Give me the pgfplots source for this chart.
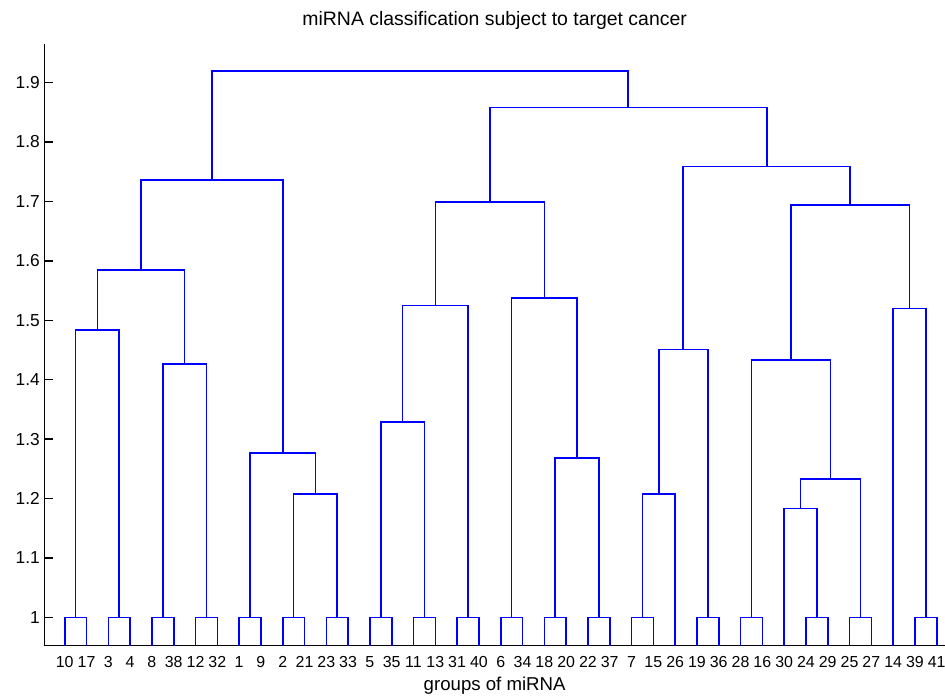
\documentclass[border=0pt]{standalone}
\usepackage{pgfplots}
\pgfplotsset{compat=1.18}
\usepackage{fontspec}
\setmainfont{Liberation Sans}
\definecolor{dblue}{RGB}{0,0,255}
\begin{document}
\begin{tikzpicture}
\useasboundingbox (-44.3bp,-51.7bp) rectangle (900.7bp,645.3bp);
\begin{axis}[
  at={(0,0)}, anchor=south west,
  scale only axis, width=900.7bp, height=601.3bp,
  xmin=0.064, xmax=41.38, ymin=0.953, ymax=1.965,
  axis lines*=left,
  axis line style={black, line width=1.4bp},
  /pgf/number format/assume math mode=true,
  xtick={1,...,41},
  xticklabels={10,17,3,4,8,38,12,32,1,9,2,21,23,33,5,35,11,13,31,40,6,34,18,20,22,37,7,15,26,19,36,28,16,30,24,29,25,27,14,39,41},
  xtick style={draw=none},
  xticklabel style={font=\fontsize{16}{16}\selectfont, anchor=base, yshift=-22.7bp},
  ytick={1,1.1,1.2,1.3,1.4,1.5,1.6,1.7,1.8,1.9},
  yticklabels={1,1.1,1.2,1.3,1.4,1.5,1.6,1.7,1.8,1.9},
  ytick pos=left, tick align=inside,
  major tick length=9bp,
  ytick style={black, line width=1.4bp},
  yticklabel style={font=\fontsize{17.4}{17.4}\selectfont, xshift=-1bp},
  title={miRNA classification subject to target cancer},
  title style={font=\fontsize{19.5}{19.5}\selectfont, at={(0.5,1)}, anchor=base, yshift=13bp},
  xlabel={groups of miRNA},
  xlabel style={font=\fontsize{18.7}{18.7}\selectfont, at={(0.5,0)}, anchor=base, yshift=-45bp},
  every axis plot/.append style={dblue, line width=1.6bp, no marks, forget plot},
  clip=true,
]
% leaf pairs joined at height 1
\addplot coordinates {(1,0) (1,1) (2,1) (2,0)};
\addplot coordinates {(3,0) (3,1) (4,1) (4,0)};
\addplot coordinates {(5,0) (5,1) (6,1) (6,0)};
\addplot coordinates {(7,0) (7,1) (8,1) (8,0)};
\addplot coordinates {(9,0) (9,1) (10,1) (10,0)};
\addplot coordinates {(11,0) (11,1) (12,1) (12,0)};
\addplot coordinates {(13,0) (13,1) (14,1) (14,0)};
\addplot coordinates {(15,0) (15,1) (16,1) (16,0)};
\addplot coordinates {(17,0) (17,1) (18,1) (18,0)};
\addplot coordinates {(19,0) (19,1) (20,1) (20,0)};
\addplot coordinates {(21,0) (21,1) (22,1) (22,0)};
\addplot coordinates {(23,0) (23,1) (24,1) (24,0)};
\addplot coordinates {(25,0) (25,1) (26,1) (26,0)};
\addplot coordinates {(27,0) (27,1) (28,1) (28,0)};
\addplot coordinates {(30,0) (30,1) (31,1) (31,0)};
\addplot coordinates {(32,0) (32,1) (33,1) (33,0)};
\addplot coordinates {(35,0) (35,1) (36,1) (36,0)};
\addplot coordinates {(37,0) (37,1) (38,1) (38,0)};
\addplot coordinates {(40,0) (40,1) (41,1) (41,0)};
% higher merges
\addplot coordinates {(1.5,1) (1.5,1.484) (3.5,1.484) (3.5,1)};
\addplot coordinates {(5.5,1) (5.5,1.426) (7.5,1.426) (7.5,1)};
\addplot coordinates {(2.5,1.484) (2.5,1.585) (6.5,1.585) (6.5,1.426)};
\addplot coordinates {(11.5,1) (11.5,1.208) (13.5,1.208) (13.5,1)};
\addplot coordinates {(9.5,1) (9.5,1.277) (12.5,1.277) (12.5,1.208)};
\addplot coordinates {(4.5,1.585) (4.5,1.736) (11,1.736) (11,1.277)};
\addplot coordinates {(15.5,1) (15.5,1.329) (17.5,1.329) (17.5,1)};
\addplot coordinates {(16.5,1.329) (16.5,1.525) (19.5,1.525) (19.5,1)};
\addplot coordinates {(23.5,1) (23.5,1.268) (25.5,1.268) (25.5,1)};
\addplot coordinates {(21.5,1) (21.5,1.5375) (24.5,1.5375) (24.5,1.268)};
\addplot coordinates {(18,1.525) (18,1.699) (23,1.699) (23,1.5375)};
\addplot coordinates {(27.5,1) (27.5,1.208) (29,1.208) (29,0)};
\addplot coordinates {(28.25,1.208) (28.25,1.4505) (30.5,1.4505) (30.5,1)};
\addplot coordinates {(34,0) (34,1.183) (35.5,1.183) (35.5,1)};
\addplot coordinates {(34.75,1.183) (34.75,1.233) (37.5,1.233) (37.5,1)};
\addplot coordinates {(32.5,1) (32.5,1.433) (36.125,1.433) (36.125,1.233)};
\addplot coordinates {(39,0) (39,1.52) (40.5,1.52) (40.5,1)};
\addplot coordinates {(34.3125,1.433) (34.3125,1.694) (39.75,1.694) (39.75,1.52)};
\addplot coordinates {(29.375,1.4505) (29.375,1.7586) (37.03125,1.7586) (37.03125,1.694)};
\addplot coordinates {(20.5,1.699) (20.5,1.858) (33.203,1.858) (33.203,1.7586)};
\addplot coordinates {(7.75,1.736) (7.75,1.92) (26.852,1.92) (26.852,1.858)};
\end{axis}
\end{tikzpicture}
\end{document}
